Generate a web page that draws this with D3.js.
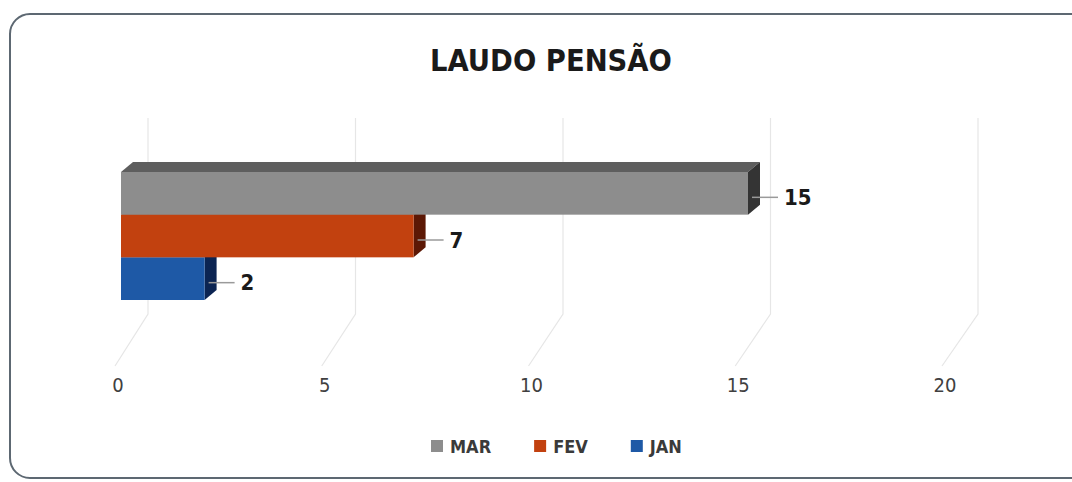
<!DOCTYPE html>
<html>
<head>
<meta charset="utf-8">
<script src="https://cdn.jsdelivr.net/npm/d3@7"></script>
<style>
  html, body { margin: 0; padding: 0; background: #ffffff; }
  svg { display: block; }
  text { font-family: "Liberation Sans Narrow", "DejaVu Sans Condensed", "Open Sans", sans-serif; }
</style>
</head>
<body>
<svg id="chart" width="1072" height="482"></svg>
<script>
// ---- data ----
const title = "LAUDO PENSÃO";
const series = ["MAR", "FEV", "JAN"];
const values = [15, 7, 2];
const tickValues = [0, 5, 10, 15, 20];
const tickLabels = ["0", "5", "10", "15", "20"];
const frontColors = ["#8d8d8d", "#c2410f", "#1e59a6"];
const sideColors  = ["#343434", "#5c1805", "#0b2452"];
const topColors   = ["#5e5e5e", "#8a2c08", "#143d75"];

const svg = d3.select("#chart");

// outer frame
svg.append("rect")
  .attr("x", 10).attr("y", 14).attr("width", 1080).attr("height", 464)
  .attr("rx", 20).attr("ry", 20)
  .attr("fill", "#ffffff").attr("stroke", "#5d6872").attr("stroke-width", 2);

// title
svg.append("text")
  .attr("x", 551).attr("y", 71)
  .attr("text-anchor", "middle")
  .attr("font-size", 30.5).attr("font-weight", "bold")
  .attr("fill", "#1a1a1a")
  .text(title);

// scales
const x = d3.scaleLinear().domain([0, 20]).range([121, 957]);       // bar front faces
const xWall = d3.scaleLinear().domain([0, 20]).range([148, 978]);   // back wall gridlines
const xFloor = d3.scaleLinear().domain([0, 20]).range([115, 942]);  // floor front edge
const y = d3.scaleBand().domain(series).range([172, 300]).paddingInner(0).paddingOuter(0);
const dx = 12, dy = -10;

// gridlines (back wall + floor)
const grid = svg.append("g");
tickValues.forEach(v => {
  grid.append("path")
    .attr("d", `M${xWall(v)},118 L${xWall(v)},314 L${xFloor(v)},366`)
    .attr("fill", "none").attr("stroke", "#e6e6e6").attr("stroke-width", 1.2);
});

// tick labels
svg.append("g").selectAll("text").data(tickValues).join("text")
  .attr("x", (d) => xFloor(d) + 3)
  .attr("y", 385)
  .attr("text-anchor", "middle").attr("dominant-baseline", "central")
  .attr("font-size", 20).attr("fill", "#404040")
  .text((d, i) => tickLabels[i]);

// bars, drawn from bottom to top so upper faces cover lower top faces
const order = d3.range(series.length).reverse();
const bars = svg.append("g");
order.forEach(i => {
  const s = series[i], v = values[i];
  const x0 = x(0), x1 = x(v);
  const yt = y(s), yb = y(s) + y.bandwidth();
  bars.append("path")
    .attr("d", `M${x0},${yt} L${x0 + dx},${yt + dy} L${x1 + dx},${yt + dy} L${x1},${yt} Z`)
    .attr("fill", topColors[i]);
  bars.append("path")
    .attr("d", `M${x1},${yt} L${x1 + dx},${yt + dy} L${x1 + dx},${yb + dy} L${x1},${yb} Z`)
    .attr("fill", sideColors[i]);
  bars.append("rect")
    .attr("x", x0).attr("y", yt).attr("width", x1 - x0).attr("height", yb - yt)
    .attr("fill", frontColors[i]);
});

// data labels with leader lines
const lab = svg.append("g");
series.forEach((s, i) => {
  const v = values[i];
  const yc = y(s) + y.bandwidth() / 2 + 4;
  lab.append("line")
    .attr("x1", x(v) + 4).attr("x2", x(v) + 30)
    .attr("y1", yc).attr("y2", yc)
    .attr("stroke", "#9a9a9a").attr("stroke-width", 1.5);
  lab.append("text")
    .attr("x", x(v) + 36).attr("y", yc)
    .attr("dominant-baseline", "central")
    .attr("font-size", 22).attr("font-weight", "bold").attr("fill", "#1a1a1a")
    .text(v);
});

// legend
const legend = svg.append("g").attr("transform", "translate(431,446)");
let cx = 0;
series.forEach((s, i) => {
  legend.append("rect")
    .attr("x", cx).attr("y", -6).attr("width", 12).attr("height", 12)
    .attr("fill", frontColors[i]);
  const t = legend.append("text")
    .attr("x", cx + 19).attr("y", 0)
    .attr("dominant-baseline", "central")
    .attr("font-size", 18).attr("font-weight", "bold").attr("fill", "#3a3a3a")
    .text(s);
  cx += 19 + t.node().getComputedTextLength() + 43;
});
</script>
</body>
</html>
